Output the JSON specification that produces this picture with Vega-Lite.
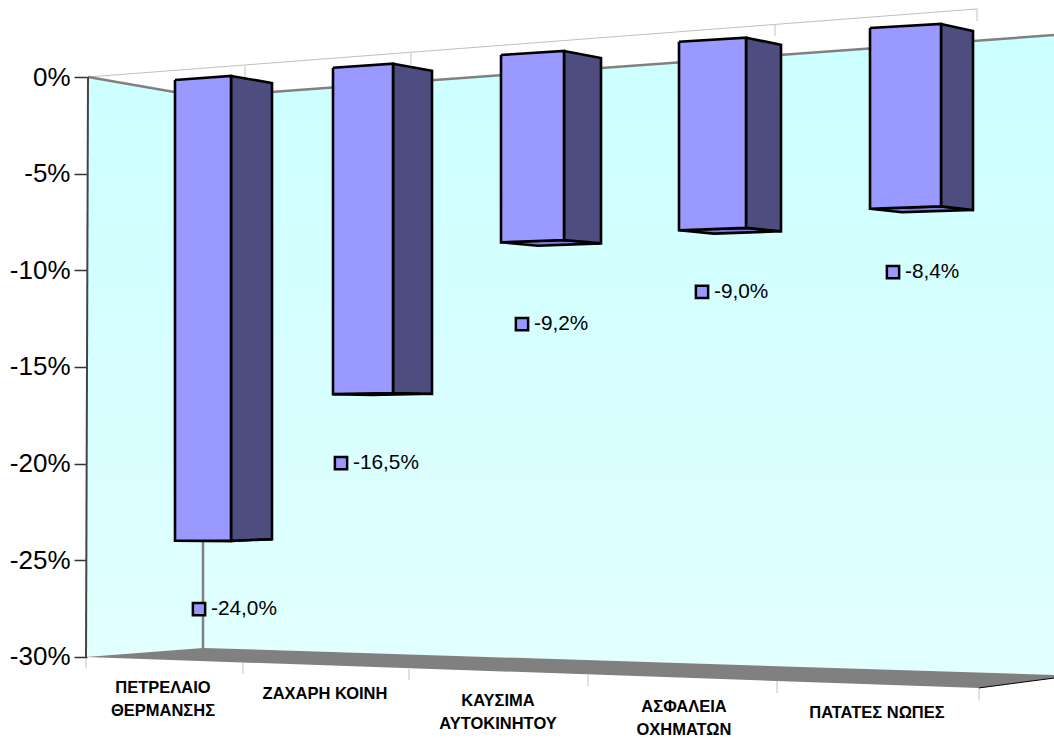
{
"$schema":"https://vega.github.io/schema/vega-lite/v6.json",
"width":967,"height":738,"autosize":"none","padding":{"left":87,"top":0,"right":0,"bottom":0},
"background":"white",
"config":{"view":{"stroke":null},"font":"Liberation Sans"},
"datasets":{
"bars":[
{"category":"ΠΕΤΡΕΛΑΙΟ\nΘΕΡΜΑΝΣΗΣ","value":-24.0},
{"category":"ΖΑΧΑΡΗ ΚΟΙΝΗ","value":-16.5},
{"category":"ΚΑΥΣΙΜΑ\nΑΥΤΟΚΙΝΗΤΟΥ","value":-9.2},
{"category":"ΑΣΦΑΛΕΙΑ\nΟΧΗΜΑΤΩΝ","value":-9.0},
{"category":"ΠΑΤΑΤΕΣ ΝΩΠΕΣ","value":-8.4}
],
"wall":[
{"part":"wall","s":0,"x":0.88,"y":0},{"part":"wall","s":1,"x":2.03,"y":-1.03},{"part":"wall","s":2,"x":10.54,"y":2.17},{"part":"wall","s":3,"x":10.54,"y":-30.93},{"part":"wall","s":4,"x":2.03,"y":-29.53},{"part":"wall","s":5,"x":0.86,"y":-30}
],
"floor":[
{"s":0,"x":0.86,"y":-30},{"s":1,"x":2.03,"y":-29.53},{"s":2,"x":10.54,"y":-30.93},{"s":3,"x":10.54,"y":-31.09},{"s":4,"x":9.79,"y":-31.6}
],
"edges":[
{"edge":"top","s":0,"x":0.88,"y":0},{"edge":"top","s":1,"x":2.03,"y":-1.03},{"edge":"top","s":2,"x":10.54,"y":2.17},
{"edge":"corner","s":0,"x":2.03,"y":-1.03},{"edge":"corner","s":1,"x":2.03,"y":-29.53}
],
"backline":[{"s":0,"x":0.88,"y":0},{"s":1,"x":9.77,"y":3.52}],
"frontline":[{"s":0,"x":9.79,"y":-31.6},{"s":1,"x":10.54,"y":-31.09}],
"leftline":[{"s":0,"x":0.88,"y":0},{"s":1,"x":0.86,"y":-30}],
"ticks":[
{"x":2.45,"y":0.57,"y2":0},{"x":4.11,"y":1.24,"y2":0.62},{"x":7.75,"y":2.69,"y2":2.12},{"x":9.77,"y":3.52,"y2":2.9},
{"x":0.86,"y":-30.05,"y2":-30.57},{"x":2.43,"y":-30.31,"y2":-30.88},{"x":4.09,"y":-30.62,"y2":-31.19},{"x":5.88,"y":-30.93,"y2":-31.5},{"x":7.77,"y":-31.24,"y2":-31.86},{"x":9.79,"y":-31.6,"y2":-32.22}
]
},
"data":{"name":"bars"},
"transform":[
{"window":[{"op":"row_number","as":"n"}]},
{"calculate":"datum.n-1","as":"i"},
{"calculate":"[1.75,3.33,5.01,6.79,8.70][datum.i]","as":"xl"},
{"calculate":"[2.31,3.93,5.64,7.46,9.41][datum.i]","as":"xr"},
{"calculate":"[2.72,4.32,6.01,7.81,9.73][datum.i]","as":"xs"},
{"calculate":"-0.155+0.621*datum.i+0.0129*datum.i*datum.i","as":"tl"},
{"calculate":"0.993+0.03*datum.i","as":"k"},
{"calculate":"datum.tl+0.207","as":"tr"},
{"calculate":"datum.tl-0.155","as":"ts"},
{"calculate":"datum.tl+datum.value*datum.k","as":"bl"},
{"calculate":"datum.tr+datum.value*datum.k*1.009","as":"br"},
{"calculate":"datum.ts+datum.value*datum.k*0.99","as":"bs"},
{"calculate":"[0,1,2,3,4]","as":"s"},
{"flatten":["s"]}
],
"encoding":{
"x":{"field":"x","type":"quantitative","scale":{"domain":[0.87,10.54],"nice":false,"zero":false},"axis":null},
"y":{"field":"y","type":"quantitative","scale":{"domain":[-34.19,3.983],"nice":false,"zero":false},
"axis":{"title":null,"values":[-30,-25,-20,-15,-10,-5,0],"grid":false,"domain":false,"tickSize":13,"tickWidth":1.5,"tickColor":"#333333","labelPadding":4,"labelFontSize":26,"labelFont":"Liberation Sans","labelColor":"#000000","labelExpr":"datum.value+'%'"}},
"order":{"field":"s","type":"quantitative"}
},
"layer":[
{"data":{"name":"wall"},"mark":{"type":"line","stroke":"transparent","fill":{"x1":0,"y1":0,"x2":0,"y2":1,"gradient":"linear","stops":[{"offset":0,"color":"#ccffff"},{"offset":1,"color":"#e2ffff"}]}}},
{"data":{"name":"backline"},"mark":{"type":"line","stroke":"#c0c0c0","strokeWidth":1}},
{"data":{"name":"ticks"},"mark":{"type":"rule","stroke":"#c0c0c0","strokeWidth":1},"encoding":{"y2":{"field":"y2"},"order":{"value":null}}},
{"data":{"name":"floor"},"mark":{"type":"line","stroke":"transparent","fill":"#808080"}},
{"data":{"name":"edges"},"mark":{"type":"line","stroke":"#808080","strokeWidth":2.5},"encoding":{"detail":{"field":"edge"}}},
{"data":{"name":"frontline"},"mark":{"type":"line","stroke":"#000000","strokeWidth":1}},
{"data":{"name":"leftline"},"mark":{"type":"line","stroke":"#444444","strokeWidth":2}},
{"transform":[
{"calculate":"[datum.xl,datum.xr,datum.xs,datum.xl+datum.xs-datum.xr,datum.xl][datum.s]","as":"x"},
{"calculate":"[datum.bl,datum.br,datum.bs,datum.bl+datum.bs-datum.br,datum.bl][datum.s]","as":"y"}],
"mark":{"type":"line","stroke":"#000000","strokeWidth":2.6,"fill":"#7a7ad8","strokeJoin":"miter"},"encoding":{"detail":{"field":"category"}}},
{"transform":[
{"calculate":"[datum.xr,datum.xs,datum.xs,datum.xr,datum.xr][datum.s]","as":"x"},
{"calculate":"[datum.tr,datum.ts,datum.bs,datum.br,datum.tr][datum.s]","as":"y"}],
"mark":{"type":"line","stroke":"#000000","strokeWidth":2.6,"fill":"#4d4d80","strokeJoin":"miter"},"encoding":{"detail":{"field":"category"}}},
{"transform":[
{"calculate":"[datum.xl,datum.xr,datum.xr,datum.xl,datum.xl][datum.s]","as":"x"},
{"calculate":"[datum.tl,datum.tr,datum.br,datum.bl,datum.tl][datum.s]","as":"y"}],
"mark":{"type":"line","stroke":"#000000","strokeWidth":2.6,"fill":"#9999ff","strokeJoin":"miter"},"encoding":{"detail":{"field":"category"}}},
{"transform":[
{"filter":"datum.s==0"},
{"calculate":"[1.99,3.41,5.22,7.02,8.93][datum.i]","as":"x"},
{"calculate":"[-27.52,-19.97,-12.78,-11.12,-10.09][datum.i]","as":"y"}],
"mark":{"type":"point","shape":"square","size":150,"filled":true,"fill":"#9999ff","stroke":"#000000","strokeWidth":2.5,"opacity":1},"encoding":{"order":{"value":null}}},
{"transform":[
{"filter":"datum.s==0"},
{"calculate":"[1.99,3.41,5.22,7.02,8.93][datum.i]","as":"x"},
{"calculate":"[-27.52,-19.97,-12.78,-11.12,-10.09][datum.i]","as":"y"},
{"calculate":"'-'+replace(format(abs(datum.value),'.1f'),'.',',')+'%'","as":"label"}],
"mark":{"type":"text","align":"left","baseline":"middle","dx":12,"fontSize":20.8,"font":"Liberation Sans","fill":"#000000"},"encoding":{"text":{"field":"label"},"order":{"value":null}}},
{"transform":[
{"filter":"datum.s==0"},
{"calculate":"[1.63,3.25,4.98,6.84,8.77][datum.i]","as":"x"},
{"calculate":"[-31.6,-31.91,-32.28,-32.59,-32.9][datum.i]","as":"y"}],
"mark":{"type":"text","align":"center","baseline":"middle","lineBreak":"\n","lineHeight":23,"fontSize":16.5,"fontWeight":"bold","font":"Liberation Sans","fill":"#000000"},"encoding":{"text":{"field":"category"},"order":{"value":null}}}
]
}
